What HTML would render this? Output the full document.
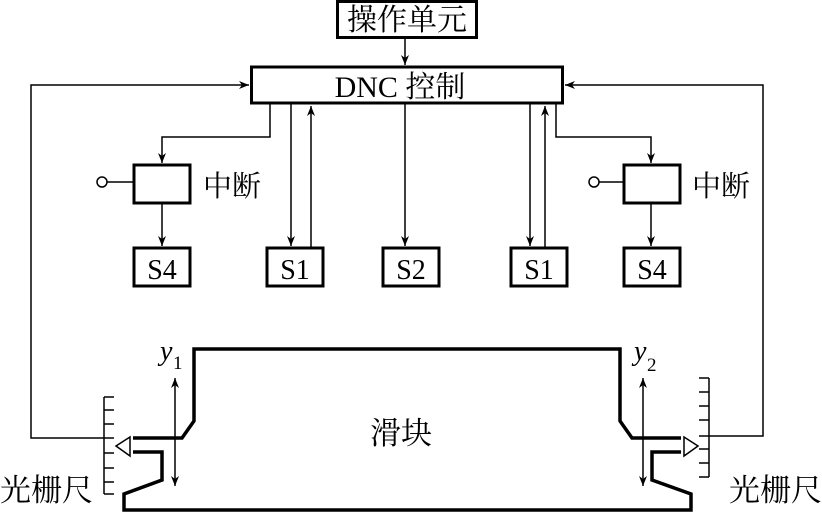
<!DOCTYPE html>
<html><head><meta charset="utf-8"><style>
html,body{margin:0;padding:0;background:#fff;}
svg{display:block;}
.t{font-family:"Liberation Serif","Noto Serif CJK SC",serif;fill:#000;}
</style></head><body>
<svg width="822" height="512" viewBox="0 0 822 512" xmlns="http://www.w3.org/2000/svg">
<defs>
<marker id="a" markerWidth="10" markerHeight="8" refX="10" refY="4" orient="auto" markerUnits="userSpaceOnUse">
<path d="M0,0 L10,4 L0,8 L3,4 Z" fill="#000"/>
</marker>
<marker id="as" markerWidth="10" markerHeight="8" refX="0" refY="4" orient="auto" markerUnits="userSpaceOnUse">
<path d="M10,0 L0,4 L10,8 L7,4 Z" fill="#000"/>
</marker>
</defs>
<g fill="none" stroke="#000">
<rect x="337.5" y="1.5" width="139" height="36" stroke-width="3"/>
<rect x="251.5" y="67" width="311" height="36" stroke-width="3"/>
<rect x="134" y="165" width="56" height="38" stroke-width="3"/>
<rect x="624" y="165" width="56" height="38" stroke-width="3"/>
<rect x="134" y="248" width="56" height="38" stroke-width="3"/>
<rect x="267" y="248" width="56" height="38" stroke-width="3"/>
<rect x="383" y="248" width="56" height="38" stroke-width="3"/>
<rect x="511" y="248" width="56" height="38" stroke-width="3"/>
<rect x="624" y="248" width="56" height="38" stroke-width="3"/>
<g stroke-width="1.5">
<line x1="405" y1="38" x2="405" y2="65" marker-end="url(#a)"/>
<polyline points="104,438 31,438 31,85 249,85" marker-end="url(#a)"/>
<polyline points="709,436 763,436 763,85 565,85" marker-end="url(#a)"/>
<polyline points="270,104 270,137 162,137 162,163" marker-end="url(#a)"/>
<polyline points="556,104 556,137 651,137 651,163" marker-end="url(#a)"/>
<line x1="162" y1="204" x2="162" y2="246" marker-end="url(#a)"/>
<line x1="651" y1="204" x2="651" y2="246" marker-end="url(#a)"/>
<line x1="291" y1="104" x2="291" y2="246" marker-end="url(#a)"/>
<line x1="311" y1="247" x2="311" y2="106" marker-end="url(#a)"/>
<line x1="405" y1="104" x2="405" y2="246" marker-end="url(#a)"/>
<line x1="530" y1="104" x2="530" y2="246" marker-end="url(#a)"/>
<line x1="545" y1="247" x2="545" y2="106" marker-end="url(#a)"/>
<line x1="107" y1="182" x2="133" y2="182"/>
<line x1="599" y1="182" x2="623" y2="182"/>
<circle cx="102" cy="182" r="5"/>
<circle cx="594" cy="182" r="5"/>
<line x1="175" y1="378" x2="175" y2="486" marker-start="url(#as)" marker-end="url(#a)"/>
<line x1="643" y1="378" x2="643" y2="486" marker-start="url(#as)" marker-end="url(#a)"/>
<line x1="104" y1="397" x2="104" y2="494"/>
<path d="M104,397h10M104,410h10M104,424h10M104,438h10M104,453h10M104,468h10M104,482h10M104,494h10"/>
<line x1="709" y1="378" x2="709" y2="477"/>
<path d="M709,378h-10M709,392h-10M709,406h-10M709,420h-10M709,436h-10M709,449h-10M709,463h-10M709,477h-10"/>
<polygon points="116,446 130,437 130,456"/>
<polygon points="698,446 684,437 684,456"/>
</g>
<g stroke-width="3.5" stroke-linejoin="miter">
<polyline points="133,438 182,438 194,421 194,349 620,349 620,421 632,438 681,438"/>
<polyline points="133,452 162,452 162,480 124,494 124,510 691,510 691,494 652,480 652,452 681,452"/>
</g>
</g>
<text class="t" x="407" y="30" font-size="30" text-anchor="middle">操作单元</text>
<text class="t" x="400" y="97" font-size="30" text-anchor="middle">DNC 控制</text>
<text class="t" x="203" y="196" font-size="29">中断</text>
<text class="t" x="692" y="196" font-size="29">中断</text>
<text class="t" x="162" y="279" font-size="28" text-anchor="middle">S4</text>
<text class="t" x="295" y="279" font-size="28" text-anchor="middle">S1</text>
<text class="t" x="411" y="279" font-size="28" text-anchor="middle">S2</text>
<text class="t" x="539" y="279" font-size="28" text-anchor="middle">S1</text>
<text class="t" x="652" y="279" font-size="28" text-anchor="middle">S4</text>
<text class="t" x="401" y="444" font-size="31" text-anchor="middle">滑块</text>
<text class="t" x="0" y="501" font-size="31">光栅尺</text>
<text class="t" x="729" y="501" font-size="31">光栅尺</text>
<text class="t" x="160" y="360" font-size="28" font-style="italic">y</text>
<text class="t" x="173" y="369" font-size="19">1</text>
<text class="t" x="634" y="360" font-size="28" font-style="italic">y</text>
<text class="t" x="647" y="371" font-size="19">2</text>
</svg>
</body></html>
